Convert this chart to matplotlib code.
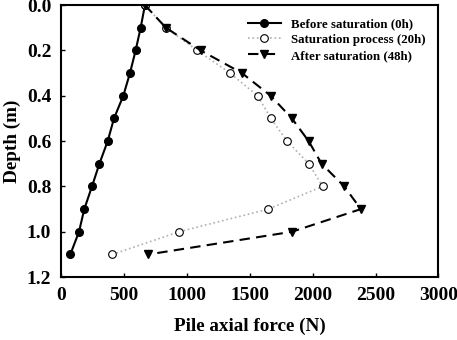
import numpy as np
import matplotlib
matplotlib.use("Agg")
import matplotlib.pyplot as plt

# depth of each gauge (m)
depth = [0.0, 0.1, 0.2, 0.3, 0.4, 0.5, 0.6, 0.7, 0.8, 0.9, 1.0, 1.1]

# axial force (N)
force_0h = [667, 633, 593, 548, 495, 421, 371, 305, 246, 185, 143, 74]
force_20h = [667, 834, 1083, 1343, 1563, 1668, 1796, 1970, 2079, 1647, 938, 408]
force_48h = [667, 834, 1110, 1438, 1666, 1835, 1968, 2071, 2251, 2383, 1835, 694]

plt.rcParams['font.family'] = ['Liberation Serif', 'DejaVu Serif']
plt.rcParams['font.weight'] = 'bold'

fig = plt.figure(figsize=(4.57, 3.4), dpi=100)
ax = fig.add_axes([0.1335, 0.185, 0.826, 0.8])

ax.plot(force_0h, depth, '-', color='black', lw=1.5, marker='o', ms=5.5,
        label='Before saturation (0h)')
ax.plot(force_20h, depth, ':', color='#b0b0b0', lw=1.2, marker='o', ms=5.5,
        mfc='white', mec='black', mew=0.8, label='Saturation process (20h)')
ax.plot(force_48h, depth, '--', color='black', lw=1.5, marker='v', ms=5.5,
        dashes=(5, 3), label='After saturation (48h)')

ax.set_xlim(0, 3000)
ax.set_ylim(1.2, 0.0)
ax.set_xticks([0, 500, 1000, 1500, 2000, 2500, 3000])
ax.set_yticks([0.0, 0.2, 0.4, 0.6, 0.8, 1.0, 1.2])
ax.set_yticklabels(['0.0', '0.2', '0.4', '0.6', '0.8', '1.0', '1.2'])
ax.tick_params(direction='in', length=3, width=1, labelsize=14, pad=7)
for lab in ax.get_xticklabels() + ax.get_yticklabels():
    lab.set_fontweight('bold')
for s in ax.spines.values():
    s.set_linewidth(1.5)

ax.set_xlabel('Pile axial force (N)', fontsize=13.8, fontweight='bold', labelpad=10)
ax.set_ylabel('Depth (m)', fontsize=13.8, fontweight='bold', labelpad=4)

leg = ax.legend(loc='upper right', frameon=False, prop={'size': 9.3, 'weight': 'bold'},
                handlelength=2.5, labelspacing=0.3, borderaxespad=0.6)

fig.savefig('out.png', dpi=100)
